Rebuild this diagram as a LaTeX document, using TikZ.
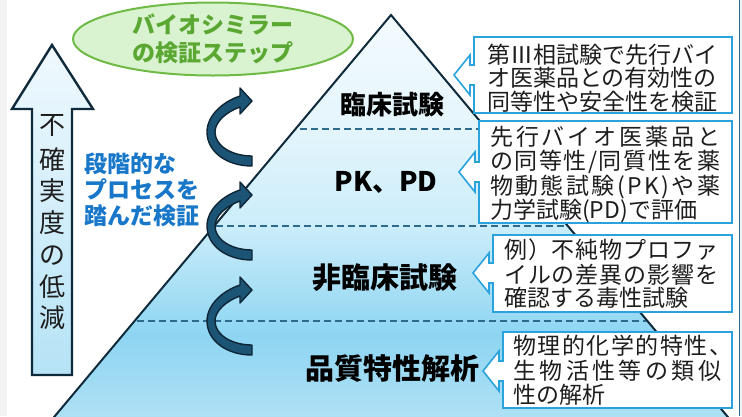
\documentclass[tikz,border=0pt]{standalone}
\usepackage{fontspec}
\setmainfont{Noto Sans CJK JP}
\usetikzlibrary{shapes.geometric}
\makeatletter
\def\spr#1#2{\hbox to #1{\spr@a#2\relax}}
\def\spr@a#1{#1\spr@b}
\def\spr@b#1{\ifx\relax#1\else\hfil#1\expandafter\spr@b\fi}
\makeatother
\definecolor{edgegray}{HTML}{F2F2F2}
\definecolor{darkline}{HTML}{0F2A3A}
\definecolor{dashcol}{HTML}{2E6A8C}
\definecolor{callblue}{HTML}{2AA3DC}
\definecolor{arrfill}{HTML}{1C5475}
\definecolor{arrline}{HTML}{0D2535}
\definecolor{ellfill}{HTML}{D9F2D0}
\definecolor{ellline}{HTML}{6FBA45}
\definecolor{elltext}{HTML}{5AA832}
\definecolor{bluetext}{HTML}{1877C9}
\definecolor{txtgray}{HTML}{1E1E1E}
\definecolor{pA}{HTML}{F4FBFE}
\definecolor{pB}{HTML}{E4F5FC}
\definecolor{pC}{HTML}{CBEDFA}
\definecolor{pD}{HTML}{8ED5F2}
\definecolor{pE}{HTML}{B0E1F5}
\definecolor{upTop}{HTML}{F0F9FE}
\definecolor{upBot}{HTML}{B5E3F6}
\tikzset{
  lvl/.style={inner sep=0pt, text=black, font=\bfseries\fontsize{29}{29}\selectfont, text height=25.5pt, text depth=3.5pt},
  ctext/.style={inner sep=0pt, anchor=west, text=txtgray, font=\fontsize{23}{23}\selectfont, text height=20.2pt, text depth=2.8pt},
  vtext/.style={inner sep=0pt, text=txtgray, font=\fontsize{26}{26}\selectfont, text height=22.9pt, text depth=3.1pt},
  btext/.style={inner sep=0pt, anchor=west, text=bluetext, font=\bfseries\fontsize{23}{23}\selectfont, text height=20.2pt, text depth=2.8pt},
  cbox/.style={draw=callblue, line width=1.6pt, fill=white},
  dashline/.style={draw=dashcol, line width=2.3pt, dash pattern=on 7pt off 4pt},
  carrow/.style={fill=arrfill, draw=arrline, line width=1.4pt, line join=round},
}
\newcommand\curvedarrow[1]{%
  \begin{scope}[shift={#1}]
    \filldraw[carrow] (0,34) .. controls (-25,34) and (-45,20) .. (-45,0)
      .. controls (-45,-16) and (-30,-30) .. (-12,-36) -- (-12,-44) -- (0,-31)
      -- (-12,-18) -- (-12,-25) .. controls (-26,-20) and (-37,-10) .. (-37,0)
      .. controls (-37,14) and (-20,24) .. (0,24) -- cycle;
  \end{scope}}
\newcommand\callout[5]{%
  \draw[cbox] (#1,#2) -- (#1,{#5-10}) -- ({#1-4},{#5-10}) -- ({#1-4},{#5-20})
    -- ({#1-20},#5) -- ({#1-4},{#5+20}) -- ({#1-4},{#5+10}) -- (#1,{#5+10})
    -- (#1,#4) -- (#3,#4) -- (#3,#2) -- cycle;}
\begin{document}
\begin{tikzpicture}[x=1pt,y=-1pt]
\useasboundingbox (0,0) rectangle (742,416);
\clip (0,0) rectangle (742,416);
\fill[white] (0,0) rectangle (742,416);
\fill[edgegray] (0,0) rectangle (7,416);
\fill[edgegray] (739,0) rectangle (742,416);
\draw[dashcol, line width=1pt] (739.5,0) -- (739.5,416);

% pyramid fill
\coordinate (apex) at (391,15);
\coordinate (bl) at (51.6,420);
\coordinate (br) at (730.4,420);
\begin{scope}
  \clip (apex) -- (bl) -- (br) -- cycle;
  \fill[top color=pA, bottom color=pB] (0,14) rectangle (742,129);
  \fill[top color=pB, bottom color=pC] (0,129) rectangle (742,226);
  \fill[top color=pC, bottom color=pD] (0,226) rectangle (742,335);
  \fill[top color=pD, bottom color=pE] (0,335) rectangle (742,421);
\end{scope}
% dashed dividers
\coordinate (d1l) at (300,129); \coordinate (d1r) at (486,129);
\coordinate (d2l) at (216,226); \coordinate (d2r) at (568,226);
\coordinate (d3l) at (137,321); \coordinate (d3r) at (647,321);
\draw[dashline] (d1l) -- (d1r);
\draw[dashline] (d2l) -- (d2r);
\draw[dashline] (d3l) -- (d3r);
\draw[darkline, line width=2pt, line join=miter] (bl) -- (apex) -- (br);

% level labels
\node[lvl, font=\bfseries\fontsize{26}{26}\selectfont, text height=22.9pt, text depth=3.1pt] (l1) at (392,105) {臨床試験};
\node[lvl, font=\bfseries\fontsize{27}{27}\selectfont, text height=23.8pt, text depth=3.2pt] (l2) at (386,181) {PK、PD};
\node[lvl] (l3) at (385,277) {非臨床試験};
\node[lvl] (l4) at (392,368) {品質特性解析};

% big up arrow
\filldraw[draw=darkline, line width=2.4pt, line join=miter, top color=upTop, bottom color=upBot]
  (52,45) -- (93,109) -- (72,109) -- (72,375) -- (32,375) -- (32,109) -- (12,109) -- cycle;
\node[vtext] (v1) at (52,125) {不};
\node[vtext] (v2) at (52,160) {確};
\node[vtext] (v3) at (52,191) {実};
\node[vtext] (v4) at (52,223) {度};
\node[vtext] (v5) at (52,255) {の};
\node[vtext] (v6) at (52,287) {低};
\node[vtext] (v7) at (52,318) {減};

% blue text
\node[btext] (b1) at (84,164) {段階的な};
\node[btext] (b2) at (84,190) {プロセスを};
\node[btext] (b3) at (84,216) {踏んだ検証};

% curved arrows
\curvedarrow{(252,132)}
\curvedarrow{(252,226)}
\curvedarrow{(252,321)}

% callouts
\callout{474}{37}{732}{113}{75}
\callout{479}{121}{732}{223}{172}
\callout{493}{235}{732}{312}{273}
\callout{503}{332}{732}{408}{371}

\node[ctext] (c11) at (487,55) {第Ⅲ相試験で先行バイ};
\node[ctext] (c12) at (487,78) {オ医薬品との有効性の};
\node[ctext] (c13) at (487,102) {同等性や安全性を検証};

\node[ctext] (c21) at (490,137) {\spr{230pt}{先行バイオ医薬品と}};
\node[ctext] (c22) at (490,161) {\spr{230pt}{の同等性/同質性を薬}};
\node[ctext] (c23) at (490,186) {\spr{230pt}{物動態試験(PK)や薬}};
\node[ctext] (c24) at (490,210) {力学試験(PD)で評価};

\node[ctext] (c31) at (504,250) {\spr{214pt}{例）不純物プロファ}};
\node[ctext] (c32) at (504,275) {\spr{214pt}{イルの差異の影響を}};
\node[ctext] (c33) at (504,298) {確認する毒性試験};

\node[ctext] (c41) at (513,346) {\spr{219pt}{物理的化学的特性、}};
\node[ctext] (c42) at (513,371) {\spr{208pt}{生物活性等の類似}};
\node[ctext] (c43) at (513,395) {性の解析};

% title ellipse
\node[ellipse, draw=ellline, fill=ellfill, line width=2pt, minimum width=280pt, minimum height=73pt,
      inner sep=0pt, align=center, text=elltext, font=\bfseries\fontsize{23}{28}\selectfont] (title) at (213,39)
  {バイオシミラー\\の検証ステップ};
\end{tikzpicture}
\end{document}
